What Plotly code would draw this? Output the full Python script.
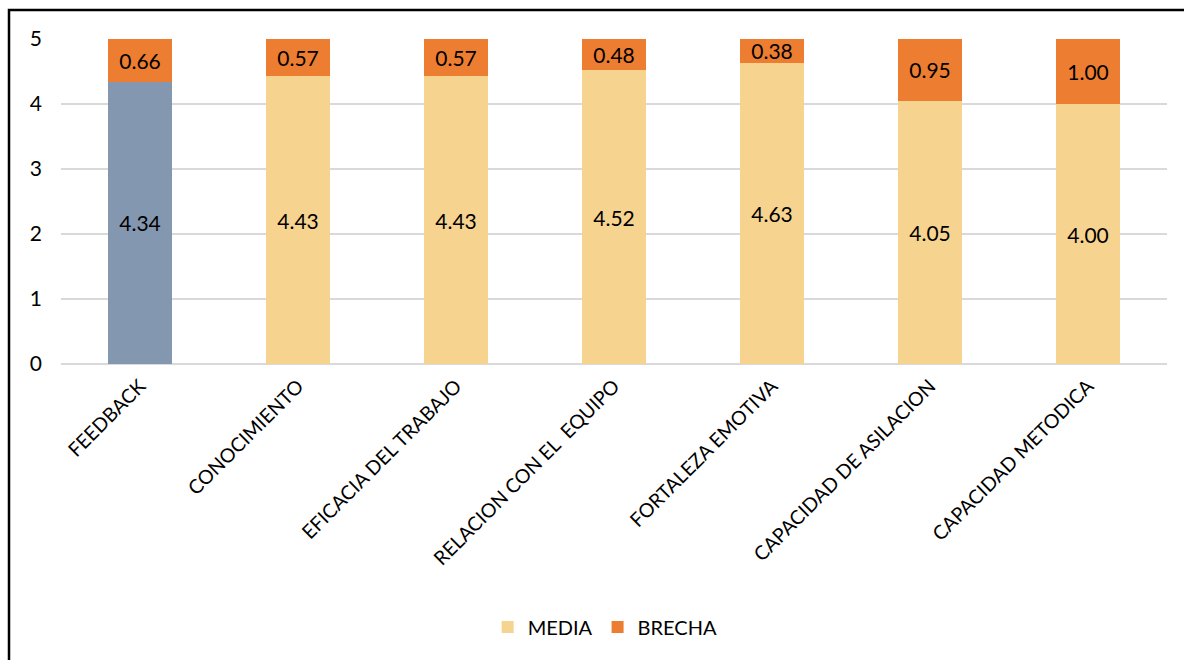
import plotly.graph_objects as go

categories = ["FEEDBACK", "CONOCIMIENTO", "EFICACIA DEL TRABAJO", "RELACION CON EL  EQUIPO",
              "FORTALEZA EMOTIVA", "CAPACIDAD DE ASILACION", "CAPACIDAD METODICA"]
media = [4.34, 4.43, 4.43, 4.52, 4.63, 4.05, 4.00]
brecha = [0.66, 0.57, 0.57, 0.48, 0.38, 0.95, 1.00]
y_ticks = [0, 1, 2, 3, 4, 5]

MEDIA_COLOR = "#F6D38F"
FEEDBACK_COLOR = "#8497B0"
BRECHA_COLOR = "#ED7D31"
media_colors = [FEEDBACK_COLOR] + [MEDIA_COLOR] * (len(categories) - 1)
FONT = "Lato, 'Open Sans', sans-serif"
LABEL_SIZE = 21

fig = go.Figure()
fig.add_trace(go.Bar(
    name="MEDIA", x=categories, y=media, showlegend=False, legendgroup="media",
    marker=dict(color=media_colors, line=dict(width=0)),
    text=[f"{v:.2f}" for v in media], textposition="inside", insidetextanchor="middle",
    textfont=dict(size=LABEL_SIZE, color="#000000", family=FONT), textangle=0,
))
fig.add_trace(go.Bar(
    name="BRECHA", x=categories, y=brecha, legendrank=2,
    marker=dict(color=BRECHA_COLOR, line=dict(width=0)),
    text=[f"{v:.2f}" for v in brecha], textposition="inside", insidetextanchor="middle",
    textfont=dict(size=LABEL_SIZE, color="#000000", family=FONT), textangle=0,
))
# legend entry for MEDIA in its main colour
fig.add_trace(go.Bar(
    name="MEDIA", x=[categories[0]], y=[None], legendgroup="media", legendrank=1,
    marker=dict(color=MEDIA_COLOR, line=dict(width=0)), hoverinfo="skip",
))

W, H = 1184, 660
L, R, T, B = 61, 17, 39, 296
pw, ph = W - L - R, H - T - B

def px_to_paper_x(px):
    return (px - L) / pw

def px_to_paper_y(py):
    return (H - B - py) / ph

fig.update_layout(
    width=W, height=H,
    margin=dict(l=L, r=R, t=T, b=B, autoexpand=False),
    barmode="stack", bargap=0.595,
    plot_bgcolor="white", paper_bgcolor="white",
    font=dict(family=FONT, color="#000000"),
    uniformtext=dict(minsize=LABEL_SIZE, mode="show"),
    xaxis=dict(tickangle=-45, tickfont=dict(size=19.5, family=FONT), showgrid=False,
               showline=False, ticks="", automargin=False, ticklabelstandoff=6),
    yaxis=dict(range=[0, 5], tickvals=y_ticks, tickfont=dict(size=21, family=FONT),
               showgrid=True, gridcolor="#D9D9D9", gridwidth=1.5, zeroline=True,
               zerolinecolor="#D9D9D9", zerolinewidth=1.5, showline=False, ticks="",
               ticklabelstandoff=18, automargin=False),
    legend=dict(orientation="h", x=0.492, xanchor="center", y=px_to_paper_y(627), yanchor="middle",
                font=dict(size=20, family=FONT), traceorder="normal", itemwidth=30),
    showlegend=True,
    shapes=[dict(type="rect", xref="paper", yref="paper",
                 x0=px_to_paper_x(9), x1=px_to_paper_x(1195),
                 y0=px_to_paper_y(675), y1=px_to_paper_y(10),
                 line=dict(color="#000000", width=2.5), fillcolor="rgba(0,0,0,0)", layer="above")],
)

fig.write_html("out.html", config={"displayModeBar": False},
               post_script="document.body.style.margin='0';document.body.style.overflow='hidden';")
